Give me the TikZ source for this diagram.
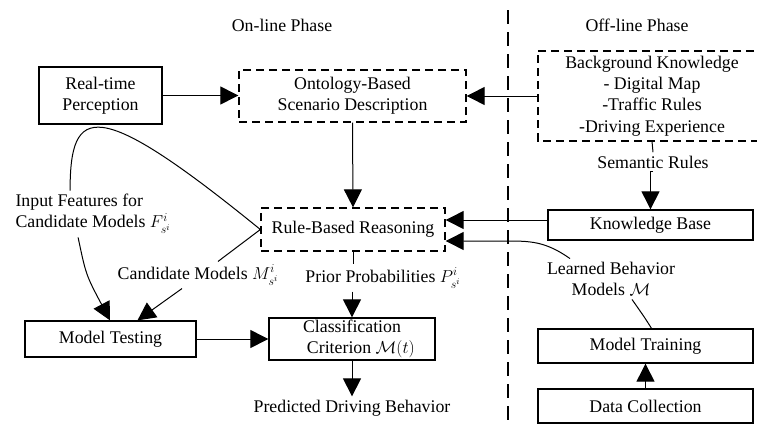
\documentclass[tikz,border=0pt]{standalone}
\usepackage{amsmath}
\usepackage{fontspec}
\setmainfont{Liberation Serif}
\usetikzlibrary{arrows.meta}

\begin{document}
\begin{tikzpicture}[x=1pt,y=-1pt,
  every node/.style={font=\fontsize{17.8}{21.3}\selectfont},
  box/.style={draw,line width=1.3pt,align=center,inner sep=0pt},
  dbox/.style={box,dash pattern=on 8pt off 5pt},
  arr/.style={line width=1pt,-{Triangle[length=18pt,width=18pt]}},
  wire/.style={line width=1pt}]
\useasboundingbox (0,0) rectangle (757,423);

% Phase divider
\draw[line width=2pt,dash pattern=on 14pt off 8pt] (508,10) -- (508,423);
\node (online) at (282,25) {On-line Phase};
\node (offline) at (637,25) {Off-line Phase};

% On-line boxes
\node[box,minimum width=123pt,minimum height=57pt] (real) at (100.5,95.5) {Real-time\\Perception};
\node[dbox,minimum width=227pt,minimum height=52pt] (onto) at (352.5,96) {Ontology-Based\\Scenario Description};
\node[dbox,minimum width=184pt,minimum height=43pt] (rule) at (353,229.5) {Rule-Based Reasoning};
\node[box,minimum width=166pt,minimum height=42pt] (cls) at (352,339) {Classification\\\quad Criterion $\mathcal{M}(t)$};
\node[box,minimum width=171pt,minimum height=36pt] (test) at (110.5,339) {Model Testing};

% Off-line boxes (background box runs off the right edge)
\node[align=center,minimum width=228pt,minimum height=90pt,inner sep=0pt] (bg) at (652,96) {Background Knowledge\\- Digital Map\\-Traffic Rules\\-Driving Experience};
\draw[line width=1.6pt,dash pattern=on 8pt off 5pt] (bg.north east) ++(40,0) -| (bg.south west) -- ++(270,0);
\node[box,minimum width=205pt,minimum height=30pt] (kb) at (650.5,225) {Knowledge Base};
\node[box,minimum width=215pt,minimum height=34pt] (train) at (645.5,346) {Model Training};
\node[box,minimum width=215pt,minimum height=34pt] (data) at (645.5,406) {Data Collection};

% Labels
\node (sem) at (653,162) {Semantic Rules};
\node (prior) at (383,278) {Prior Probabilities $P^{i}_{s^{i}}$};
\node[align=left,anchor=west] (input) at (12,214) {Input Features for\\Candidate Models $F^{i}_{s^{i}}$};
\node (cand) at (198,275) {Candidate Models $M^{i}_{s^{i}}$};
\node[align=center] (learned) at (611,279) {Learned Behavior\\Models $\mathcal{M}$};
\node (pred) at (352,408) {Predicted Driving Behavior};

% Connectors
\draw[arr] (real.east) -- (real.east -| onto.west);
\draw[arr] (bg.west) -- (bg.west -| onto.east);
\draw[arr] (onto.south) -- (rule.north);
\draw[wire] (bg.south) -- (sem.north);
\draw[arr] (sem.south) -- (sem.south -| kb.north) -- (kb.north);
\draw[arr] ([yshift=5pt]kb.west) -- ([yshift=5pt]kb.west -| rule.east);
\draw[arr] ([xshift=-41pt]learned.north) .. controls (545,241) and (530,241) .. (505,241) -- ([yshift=-11.5pt]rule.east);
\draw[wire] ([xshift=6pt]train.north) .. controls (645,318) .. ([xshift=21pt]learned.south);
\draw[arr] (data.north) -- (train.south);
\draw[wire] (rule.south) -- (rule.south |- prior.north);
\draw[arr] (cls.north |- prior.south) -- (cls.north);
\draw[arr] (cls.south) -- (pred.north);
\draw[arr] (test.east) -- (cls.west);

% Feature and model lines
\draw[wire] ([xshift=-23pt]input.north) .. controls (70,105) and (95,95) .. (rule.west) -- ([xshift=20pt]cand.north);
\draw[arr] ([xshift=-15pt]input.south) .. controls (86,275) .. ([xshift=-0.5pt]test.north);
\draw[arr] ([xshift=-16pt]cand.south) -- ([xshift=27pt]test.north);
\end{tikzpicture}
\end{document}
